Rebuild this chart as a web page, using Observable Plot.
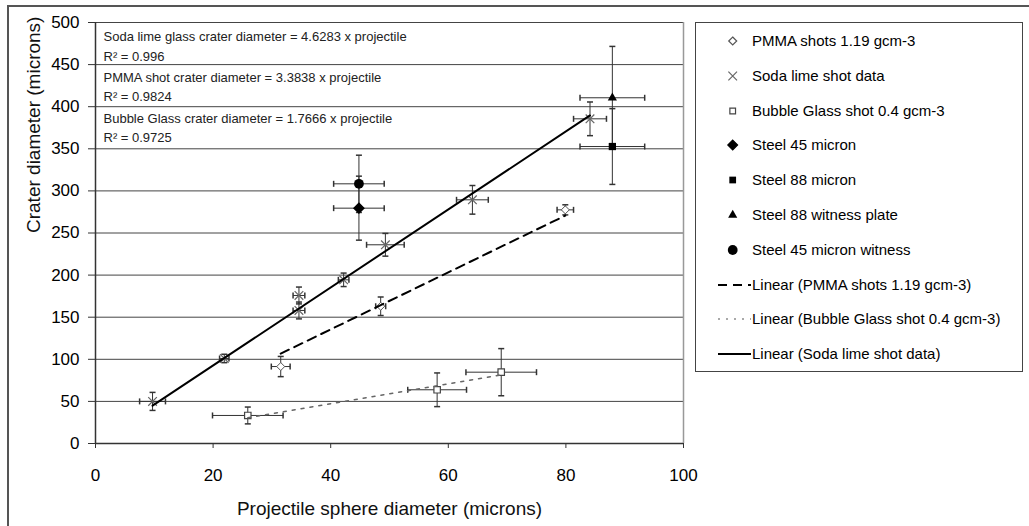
<!DOCTYPE html>
<html><head><meta charset="utf-8">
<script src="https://cdn.jsdelivr.net/npm/d3@7"></script>
<script src="https://cdn.jsdelivr.net/npm/@observablehq/plot@0.6"></script>
<style>
body{margin:0;background:#fff;font-family:"Liberation Sans",Arial,sans-serif;overflow:hidden}
#wrap{position:relative;width:1029px;height:526px;overflow:hidden}
#frame{position:absolute;left:7px;top:5px;width:1100px;height:600px;border-left:2px solid #555;border-top:2px solid #555}
#chart{position:absolute;left:0;top:0}
#legend{position:absolute;left:695px;top:22px;width:326px;height:348px;border:1px solid #444;background:#fff}
.row{position:absolute;left:0;height:20px;width:320px}
.row svg{position:absolute;left:20px;top:0}
.row span{position:absolute;left:56px;top:0;line-height:20px;font-size:15px;color:#000;white-space:nowrap}
</style></head><body>
<div id="wrap"><div id="frame"></div><div id="chart"></div><div id="legend"></div></div>
<script>
// ---- data ----
const sodaX    = [9.7, 21.9, 34.6, 34.6, 42.2, 49.3, 64.1, 84.1];
const sodaY    = [50, 101, 175.8, 158, 194.4, 236, 289.4, 385.6];
const sodaXErr = [2.2, 0.8, 1.0, 1.0, 0.9, 3.2, 2.7, 2.8];
const sodaYErr = [10.7, 5, 10, 10, 8, 13.5, 17, 20];

const pmmaX    = [31.5, 48.5, 79.9];
const pmmaY    = [91.4, 163, 277.5];
const pmmaXErr = [1.6, 0.85, 1.4];
const pmmaYErr = [12, 11, 6];

const bubbleX    = [25.9, 58.1, 69.0];
const bubbleY    = [33.3, 63.8, 84.7];
const bubbleXErr = [6, 5, 6];
const bubbleYErr = [10, 20, 28];

const steel45X = [44.8],  steel45Y = [279.5], steel45XErr = [4.3], steel45YErr = [38];
const steel88X = [87.9],  steel88Y = [352.7], steel88XErr = [5.5], steel88YErr = [45];
const steel88wX = [87.9], steel88wY = [410.6], steel88wXErr = [5.5], steel88wYErr = [61];
const steel45wX = [44.8], steel45wY = [308.4], steel45wXErr = [4.3], steel45wYErr = [34];

const xTicks = [0, 20, 40, 60, 80, 100];
const yTicks = [0, 50, 100, 150, 200, 250, 300, 350, 400, 450, 500];
const xTitle = "Projectile sphere diameter (microns)";
const yTitle = "Crater diameter (microns)";
const annotations = [
  "Soda lime glass crater diameter = 4.6283 x projectile", "R\u00B2 = 0.996",
  "PMMA shot crater diameter = 3.3838 x projectile", "R\u00B2 = 0.9824",
  "Bubble Glass crater diameter = 1.7666 x projectile", "R\u00B2 = 0.9725"
];
const legendLabels = [
  "PMMA shots 1.19 gcm-3", "Soda lime shot data", "Bubble Glass shot 0.4 gcm-3",
  "Steel 45 micron", "Steel 88 micron", "Steel 88 witness plate", "Steel 45 micron witness",
  "Linear (PMMA shots 1.19 gcm-3)", "Linear (Bubble Glass shot 0.4 gcm-3)", "Linear (Soda lime shot data)"
];

// ---- build ----
const pts = (xs, ys, xe, ye) => xs.map((x, i) => ({x, y: ys[i], xe: xe[i], ye: ye[i]}));
const soda = pts(sodaX, sodaY, sodaXErr, sodaYErr);
const pmma = pts(pmmaX, pmmaY, pmmaXErr, pmmaYErr);
const bubble = pts(bubbleX, bubbleY, bubbleXErr, bubbleYErr);
const s45 = pts(steel45X, steel45Y, steel45XErr, steel45YErr);
const s88 = pts(steel88X, steel88Y, steel88XErr, steel88YErr);
const s88w = pts(steel88wX, steel88wY, steel88wXErr, steel88wYErr);
const s45w = pts(steel45wX, steel45wY, steel45wXErr, steel45wYErr);
const all = [...soda, ...pmma, ...bubble, ...s45, ...s88, ...s88w, ...s45w];

// least-squares line through the origin, over the data's x range
function trend(data) {
  const sxy = d3.sum(data, d => d.x * d.y), sxx = d3.sum(data, d => d.x * d.x);
  const k = sxy / sxx, [a, b] = d3.extent(data, d => d.x);
  return [{x: a, y: k * a}, {x: b, y: k * b}];
}

const vcap = {draw(ctx, size) { const h = Math.sqrt(size / Math.PI); ctx.moveTo(0, -h); ctx.lineTo(0, h); }};
const hcap = {draw(ctx, size) { const h = Math.sqrt(size / Math.PI); ctx.moveTo(-h, 0); ctx.lineTo(h, 0); }};
const ebColor = "#333";

const annDy = [14, 34, 55, 74, 96, 115];

const chart = Plot.plot({
  width: 1029, height: 526,
  marginLeft: 95, marginRight: 346, marginTop: 22, marginBottom: 83,
  style: {background: "transparent", fontFamily: "Liberation Sans, Arial, sans-serif", fontSize: "17px", color: "#000"},
  x: {domain: [0, 100]},
  y: {domain: [0, 500]},
  marks: [
    Plot.gridY({ticks: yTicks.filter(v => v > 0), stroke: "#444", strokeOpacity: 1, strokeWidth: 1}),
    Plot.ruleX([100], {stroke: "#999", strokeWidth: 1.5}),
    Plot.ruleX([0], {stroke: "#333", strokeWidth: 1.5}),
    Plot.ruleY([0], {stroke: "#333", strokeWidth: 1.5}),
    Plot.axisY({ticks: yTicks, tickSize: 7, tickPadding: 9, label: null, stroke: "#333"}),
    Plot.axisX({ticks: xTicks, tickSize: 5, tickPadding: 20, label: null, stroke: "#333"}),
    // error bars
    Plot.link(all, {x1: d => d.x - d.xe, x2: d => d.x + d.xe, y1: "y", y2: "y", stroke: ebColor, strokeWidth: 1}),
    Plot.link(all, {x1: "x", x2: "x", y1: d => d.y - d.ye, y2: d => d.y + d.ye, stroke: ebColor, strokeWidth: 1}),
    Plot.dot(all, {x: d => d.x - d.xe, y: "y", symbol: vcap, r: 3, fill: "none", stroke: ebColor}),
    Plot.dot(all, {x: d => d.x + d.xe, y: "y", symbol: vcap, r: 3, fill: "none", stroke: ebColor}),
    Plot.dot(all, {x: "x", y: d => d.y - d.ye, symbol: hcap, r: 3, fill: "none", stroke: ebColor}),
    Plot.dot(all, {x: "x", y: d => d.y + d.ye, symbol: hcap, r: 3, fill: "none", stroke: ebColor}),
    // markers
    Plot.dot(pmma, {x: "x", y: "y", symbol: "diamond2", r: 3.6, fill: "#fff", stroke: "#555", strokeWidth: 1}),
    Plot.dot(soda, {x: "x", y: "y", symbol: "times", r: 4, fill: "none", stroke: "#666", strokeWidth: 1.2}),
    Plot.dot(bubble, {x: "x", y: "y", symbol: "square2", r: 4.1, fill: "#fff", stroke: "#444", strokeWidth: 1.2}),
    Plot.dot(s45, {x: "x", y: "y", symbol: "diamond2", r: 4.4, fill: "#000", stroke: "#000"}),
    Plot.dot(s88, {x: "x", y: "y", symbol: "square", r: 4.1, fill: "#000"}),
    Plot.dot(s88w, {x: "x", y: "y", symbol: "triangle", r: 3.4, fill: "#000"}),
    Plot.dot(s45w, {x: "x", y: "y", symbol: "circle", r: 4.9, fill: "#000"}),
    // trend lines
    Plot.line(trend(bubble), {x: "x", y: "y", stroke: "#666", strokeWidth: 1.5, strokeDasharray: "3,6"}),
    Plot.line(trend(pmma), {x: "x", y: "y", stroke: "#000", strokeWidth: 2, strokeDasharray: "9,6"}),
    Plot.line(trend(soda), {x: "x", y: "y", stroke: "#000", strokeWidth: 2}),
    // annotations
    ...annotations.map((t, i) => Plot.text([t], {frameAnchor: "top-left", text: d => d, dx: 8, dy: annDy[i], textAnchor: "start", lineAnchor: "middle", fontSize: 13, fill: "#222"})),
    // axis titles
    Plot.text([xTitle], {frameAnchor: "bottom", text: d => d, dy: 65, lineAnchor: "middle", fontSize: 19, fill: "#111"}),
    Plot.text([yTitle], {frameAnchor: "left", text: d => d, dx: -62, rotate: -90, lineAnchor: "middle", fontSize: 19, fill: "#111"})
  ]
});
document.getElementById("chart").appendChild(chart);

// ---- legend ----
const legendSpec = [
  {sym: d3.symbolDiamond2, r: 3.6, fill: "#fff", stroke: "#555"},
  {sym: d3.symbolTimes, r: 4, fill: "none", stroke: "#666"},
  {sym: d3.symbolSquare2, r: 3.6, fill: "#fff", stroke: "#444"},
  {sym: d3.symbolDiamond2, r: 4.4, fill: "#000", stroke: "#000"},
  {sym: d3.symbolSquare, r: 3.8, fill: "#000", stroke: "none"},
  {sym: d3.symbolTriangle, r: 3.4, fill: "#000", stroke: "none"},
  {sym: d3.symbolCircle, r: 4.9, fill: "#000", stroke: "none"},
  {line: "9,6", stroke: "#000", w: 2},
  {line: "2,6", stroke: "#555", w: 1.2},
  {line: null, stroke: "#000", w: 2}
];
const legend = document.getElementById("legend");
legendLabels.forEach((lab, i) => {
  const s = legendSpec[i];
  const row = document.createElement("div");
  row.className = "row";
  row.style.top = (8 + i * 34.8) + "px";
  let inner;
  if (s.sym) {
    const p = d3.symbol(s.sym, Math.PI * s.r * s.r)();
    inner = `<svg width="36" height="20"><path d="${p}" transform="translate(16.7,10)" fill="${s.fill}" stroke="${s.stroke}" stroke-width="1.2"/></svg>`;
  } else {
    inner = `<svg width="36" height="20"><line x1="2" x2="35" y1="10" y2="10" stroke="${s.stroke}" stroke-width="${s.w}" ${s.line ? `stroke-dasharray="${s.line}"` : ""}/></svg>`;
  }
  row.innerHTML = inner + `<span>${lab}</span>`;
  legend.appendChild(row);
});
</script>
</body></html>
